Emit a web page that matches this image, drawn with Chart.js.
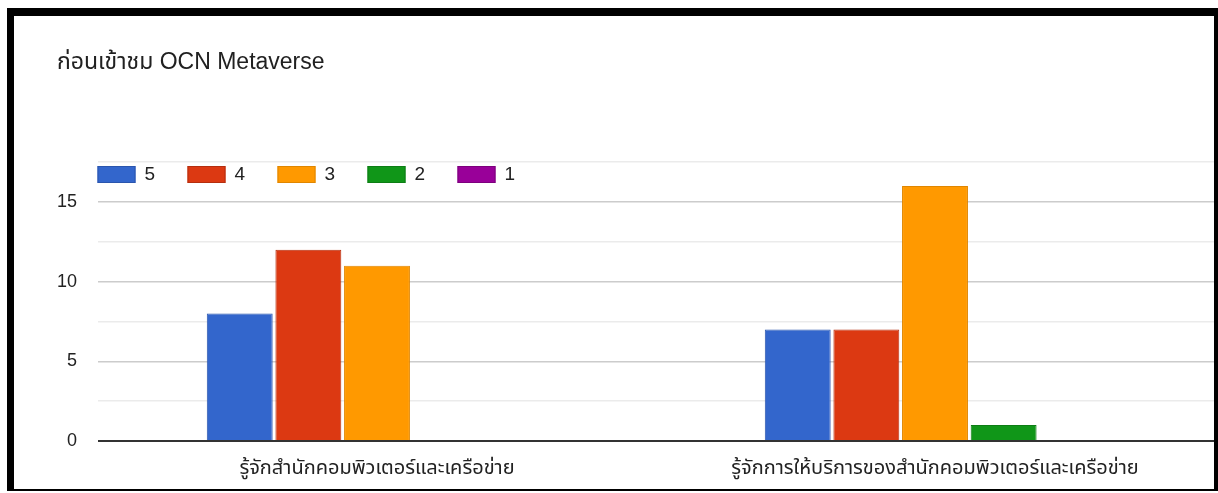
<!DOCTYPE html>
<html>
<head>
<meta charset="utf-8">
<script src="https://cdn.jsdelivr.net/npm/chart.js@4"></script>
<style>
  html, body { margin: 0; padding: 0; background: #fff; }
  #frame {
    position: absolute; left: 7px; top: 8px;
    width: 1200px; height: 473px;
    border-top: 8px solid #000; border-left: 7px solid #000;
    border-right: 4px solid #000; border-bottom: 2px solid #000;
    background: #fff;
  }
</style>
</head>
<body>
<div id="frame"><canvas id="chart"></canvas></div>
<script>
const categories = ["รู้จักสำนักคอมพิวเตอร์และเครือข่าย", "รู้จักการให้บริการของสำนักคอมพิวเตอร์และเครือข่าย"];
const seriesNames = ["5", "4", "3", "2", "1"];
const score5 = [8, 7];
const score4 = [12, 7];
const score3 = [11, 16];
const score2 = [0, 1];
const score1 = [0, 0];
const seriesColors = ["#3366cc", "#dc3912", "#ff9900", "#109618", "#990099"];
const seriesEdges = ["#2a55ad", "#b52e0e", "#e08600", "#0d7d14", "#7d007d"];

const FONT = "'Liberation Sans', Arial, 'Noto Sans Thai', sans-serif";

// legend sits inside the plot, top-left, like the google chart
const insideLegend = {
  id: 'insideLegend',
  afterDraw(chart) {
    const {ctx, chartArea} = chart;
    ctx.save();
    ctx.font = `19px ${FONT}`;
    ctx.textBaseline = 'middle';
    chart.data.datasets.forEach((ds, i) => {
      const x = chartArea.left + i * 90 - 0.5;
      const y = chartArea.top + 4;
      ctx.fillStyle = ds.backgroundColor;
      ctx.fillRect(x, y, 38, 17);
      ctx.strokeStyle = ds.borderColor;
      ctx.lineWidth = 1;
      ctx.strokeRect(x + 0.5, y + 0.5, 37, 16);
      ctx.fillStyle = '#222';
      ctx.fillText(ds.label, x + 47, y + 9);
    });
    ctx.restore();
  }
};

const values = [score5, score4, score3, score2, score1];

new Chart(document.getElementById('chart'), {
  type: 'bar',
  data: {
    labels: categories,
    datasets: seriesNames.map((name, i) => ({
      label: name,
      data: values[i],
      backgroundColor: seriesColors[i],
      borderColor: seriesEdges[i],
      borderWidth: 1,
      categoryPercentage: 0.615,
      barPercentage: 0.96
    }))
  },
  options: {
    responsive: true,
    maintainAspectRatio: false,
    animation: false,
    layout: { padding: { left: 43, right: 0, top: 0, bottom: 0 } },
    plugins: {
      legend: { display: false },
      tooltip: { enabled: false },
      title: {
        display: true,
        text: 'ก่อนเข้าชม OCN Metaverse',
        align: 'start',
        color: '#212121',
        font: { family: FONT, size: 23, weight: 'normal', lineHeight: 1.2 },
        padding: { top: 33, bottom: 85.4 }
      }
    },
    scales: {
      x: {
        grid: { display: false },
        border: { display: false },
        ticks: { color: '#222', font: { family: FONT, size: 20 }, padding: 7 },
        afterFit(scale) { scale.height = 48; }
      },
      y: {
        min: 0,
        max: 17.5,
        border: { display: false },
        afterFit(scale) { scale.width = 41; },
        ticks: {
          stepSize: 2.5,
          padding: 21,
          color: '#222',
          font: { family: FONT, size: 18 },
          callback: v => (v % 5 === 0 && v <= 15) ? v : ''
        },
        grid: {
          drawTicks: false,
          color: c => c.tick.value === 0 ? '#333' : (c.tick.value % 5 === 0 ? '#cccccc' : '#ebebeb'),
          lineWidth: c => c.tick.value === 0 ? 2 : 1.5
        }
      }
    }
  },
  plugins: [insideLegend]
});
</script>
</body>
</html>
